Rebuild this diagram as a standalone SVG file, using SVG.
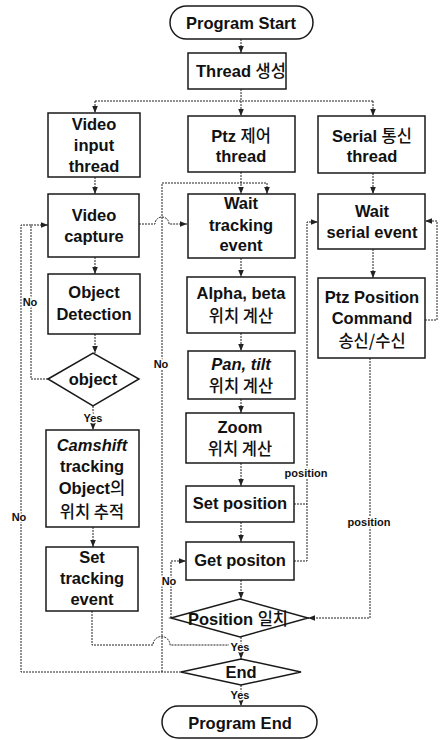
<svg xmlns="http://www.w3.org/2000/svg" width="443" height="740" viewBox="0 0 443 740">
<style>
.box{fill:#fff;stroke:#1a1a1a;stroke-width:1.5}
.t{font-family:"Liberation Sans","Noto Sans CJK KR",Arial,sans-serif;font-weight:bold;font-size:16.5px;fill:#111;text-anchor:middle}
.k{font-family:"Noto Sans CJK KR","Liberation Sans",sans-serif;font-weight:500}
.it{font-style:italic}
.lbl{font-family:"Liberation Sans",Arial,sans-serif;font-weight:bold;font-size:11px;fill:#111;text-anchor:middle;paint-order:stroke;stroke:#fff;stroke-width:3px}
.c{fill:none;stroke:#222;stroke-width:1;stroke-dasharray:2 1}
.a{marker-end:url(#arr)}
</style>
<defs>
<marker id="arr" viewBox="0 0 10 10" refX="10" refY="5" markerWidth="7" markerHeight="7" orient="auto" markerUnits="userSpaceOnUse">
<path d="M0,1 L10,5 L0,9 z" fill="#222"/>
</marker>
</defs>

<g id="connectors">
<path class="c a" d="M241,39 V53"/>
<path class="c" d="M241,89 V101 M95,101 H373"/>
<path class="c a" d="M95,101 V113"/>
<path class="c a" d="M241,101 V116"/>
<path class="c a" d="M373,101 V116"/>
<path class="c a" d="M95,177 V194"/>
<path class="c a" d="M95,257 V274"/>
<path class="c a" d="M95,334 V353"/>
<path class="c a" d="M48,379 H31 V225 H48"/>
<path class="c" d="M181,672 H21 V225 H31"/>
<path class="c a" d="M162,672 V183 H267 V194"/>
<path class="c a" d="M139,224 H155 A7,7 0 0 1 169,224 H187"/>
<path class="c a" d="M93,406 V430"/>
<path class="c a" d="M93,527 V547"/>
<path class="c" d="M92,611 V645 H153 A8.5,8.5 0 0 1 170,645 H229"/>
<path class="c a" d="M241,172 V194"/>
<path class="c a" d="M241,258 V277"/>
<path class="c a" d="M241,333 V351"/>
<path class="c a" d="M241,399 V413"/>
<path class="c a" d="M241,463 V486"/>
<path class="c a" d="M241,522 V542"/>
<path class="c a" d="M241,580 V599"/>
<path class="c a" d="M241,637 V659"/>
<path class="c a" d="M241,685 V706"/>
<path class="c a" d="M171,618 V561 H186"/>
<path class="c" d="M294,504 H307"/>
<path class="c a" d="M294,561 H307 V222 H318"/>
<path class="c a" d="M373,173 V194"/>
<path class="c a" d="M373,249 V278"/>
<path class="c a" d="M425,320 H437 V221 H425"/>
<path class="c a" d="M370,358 V618 H308"/>
<text class="lbl" x="30" y="306">No</text>
<text class="lbl" x="19" y="521">No</text>
<text class="lbl" x="161" y="368">No</text>
<text class="lbl" x="169" y="585">No</text>
<text class="lbl" x="93" y="422">Yes</text>
<text class="lbl" x="240" y="651">Yes</text>
<text class="lbl" x="240" y="699">Yes</text>
<text class="lbl" x="306" y="477">position</text>
<text class="lbl" x="369" y="526">position</text>
</g>

<g id="start">
<rect class="box" x="170" y="6" width="143" height="33" rx="16.5"/>
<text class="t" x="241" y="29">Program Start</text>
</g>
<g id="thread-create">
<rect class="box" x="188" y="53" width="98" height="36"/>
<text class="t" x="241" y="77">Thread <tspan class="k">생성</tspan></text>
</g>
<g id="video-input-thread">
<rect class="box" x="48" y="113" width="92" height="64"/>
<text class="t" x="94" y="130">Video</text>
<text class="t" x="94" y="151">input</text>
<text class="t" x="94" y="172">thread</text>
</g>
<g id="ptz-thread">
<rect class="box" x="188" y="116" width="107" height="56"/>
<text class="t" x="241" y="142">Ptz <tspan class="k">제어</tspan></text>
<text class="t" x="241" y="162">thread</text>
</g>
<g id="serial-thread">
<rect class="box" x="318" y="116" width="107" height="57"/>
<text class="t" x="372" y="142">Serial <tspan class="k">통신</tspan></text>
<text class="t" x="372" y="162">thread</text>
</g>
<g id="video-capture">
<rect class="box" x="48" y="194" width="91" height="63"/>
<text class="t" x="94" y="221">Video</text>
<text class="t" x="94" y="242">capture</text>
</g>
<g id="wait-tracking">
<rect class="box" x="188" y="194" width="107" height="64"/>
<text class="t" x="241" y="209">Wait</text>
<text class="t" x="241" y="231">tracking</text>
<text class="t" x="241" y="251">event</text>
</g>
<g id="wait-serial">
<rect class="box" x="318" y="194" width="107" height="55"/>
<text class="t" x="372" y="217">Wait</text>
<text class="t" x="372" y="238">serial event</text>
</g>
<g id="object-detection">
<rect class="box" x="48" y="274" width="92" height="60"/>
<text class="t" x="94" y="298">Object</text>
<text class="t" x="94" y="320">Detection</text>
</g>
<g id="alpha-beta">
<rect class="box" x="187" y="277" width="108" height="56"/>
<text class="t" x="241" y="299">Alpha, beta</text>
<text class="t k" x="241" y="322">위치 계산</text>
</g>
<g id="ptz-command">
<rect class="box" x="318" y="278" width="107" height="80"/>
<text class="t" x="372" y="303">Ptz Position</text>
<text class="t" x="372" y="324">Command</text>
<text class="t k" x="372" y="347">송신/수신</text>
</g>
<g id="object-decision">
<polygon class="box" points="48,379 93,353 139,379 93,406"/>
<text class="t" x="93" y="385">object</text>
</g>
<g id="pan-tilt">
<rect class="box" x="188" y="351" width="107" height="48"/>
<text class="t it" x="241" y="370">Pan, tilt</text>
<text class="t k" x="241" y="392">위치 계산</text>
</g>
<g id="zoom">
<rect class="box" x="186" y="413" width="108" height="50"/>
<text class="t" x="240" y="433">Zoom</text>
<text class="t k" x="240" y="455">위치 계산</text>
</g>
<g id="camshift">
<rect class="box" x="46" y="430" width="93" height="97"/>
<text class="t it" x="92" y="451">Camshift</text>
<text class="t" x="92" y="472">tracking</text>
<text class="t" x="92" y="494">Object<tspan class="k">의</tspan></text>
<text class="t k" x="92" y="518">위치 추적</text>
</g>
<g id="set-position">
<rect class="box" x="186" y="486" width="108" height="36"/>
<text class="t" x="240" y="509">Set position</text>
</g>
<g id="get-position">
<rect class="box" x="186" y="542" width="108" height="38"/>
<text class="t" x="240" y="566">Get positon</text>
</g>
<g id="set-tracking-event">
<rect class="box" x="46" y="547" width="92" height="64"/>
<text class="t" x="92" y="563">Set</text>
<text class="t" x="92" y="584">tracking</text>
<text class="t" x="92" y="605">event</text>
</g>
<g id="position-match">
<polygon class="box" points="171,618 240,599 308,618 240,637"/>
<text class="t" x="238" y="625">Position <tspan class="k">일치</tspan></text>
</g>
<g id="end-decision">
<polygon class="box" points="181,672 241,659 301,672 241,685"/>
<text class="t" x="241" y="678">End</text>
</g>
<g id="program-end">
<rect class="box" x="162" y="706" width="155" height="32" rx="16"/>
<text class="t" x="240" y="729">Program End</text>
</g>
</svg>
